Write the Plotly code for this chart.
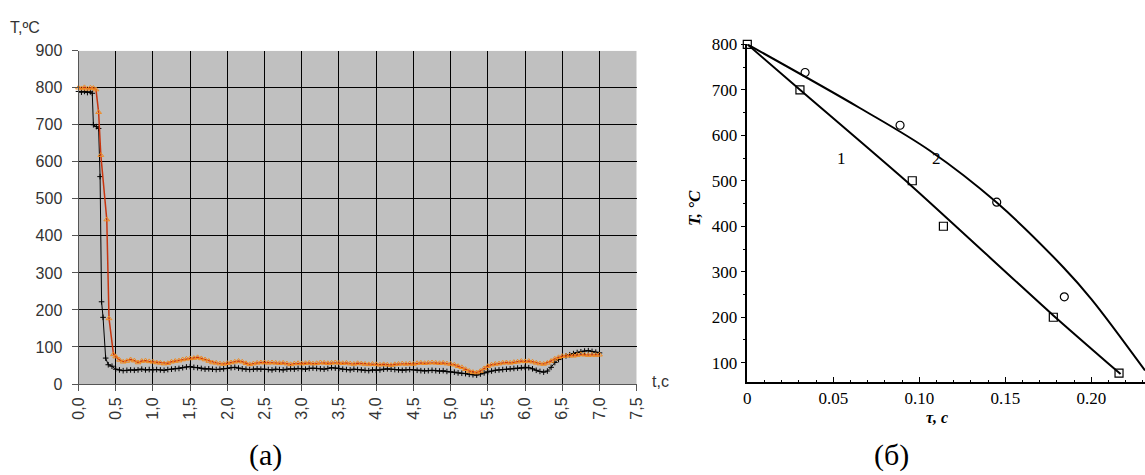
import plotly.graph_objects as go

# ---------------- (a) thermocouple records ----------------
t_red_start = [0.0, 0.04, 0.08, 0.12, 0.16, 0.20, 0.235, 0.27, 0.30, 0.38, 0.41, 0.47, 0.50]
T_red_start = [800, 798, 801, 797, 800, 799, 795, 734, 618, 444, 177, 80, 74]

t_blk_start = [0.0, 0.04, 0.08, 0.12, 0.16, 0.185, 0.20, 0.24, 0.27, 0.29, 0.31, 0.33, 0.365, 0.40, 0.45, 0.50]
T_blk_start = [790, 788, 790, 787, 789, 785, 700, 695, 690, 560, 222, 180, 70, 52, 48, 40]

t_plateau = [round(0.55 + 0.05 * i, 2) for i in range(130)]

T_red_plateau = [
    65, 60, 62, 66, 63, 58, 62, 63, 61, 60,
    58, 57, 55, 56, 60, 62, 63, 66, 68, 69,
    70, 72, 69, 66, 62, 58, 57, 55, 54, 56,
    58, 60, 62, 60, 56, 53, 55, 57, 58, 58,
    57, 58, 57, 56, 57, 55, 53, 55, 56, 55,
    56, 57, 55, 56, 58, 57, 56, 57, 58, 57,
    56, 57, 55, 54, 56, 55, 54, 53, 54, 53,
    52, 53, 52, 51, 53, 54, 55, 54, 55, 54,
    56, 57, 56, 57, 58, 57, 56, 57, 55, 54,
    52, 48, 45, 40, 35, 32, 31, 35, 42, 48,
    52, 54, 55, 57, 58, 57, 59, 60, 62, 61,
    62, 60, 57, 55, 54, 57, 62, 68, 72, 75,
    76, 77, 76, 78, 80, 79, 78, 79, 78, 79,
]

T_blk_plateau = [
    38, 36, 37, 38, 37, 38, 40, 38, 39, 38,
    39, 38, 37, 39, 40, 41, 42, 44, 46, 47,
    45, 44, 42, 40, 41, 40, 39, 40, 41, 42,
    44, 45, 43, 41, 40, 39, 40, 41, 40, 40,
    39, 38, 40, 39, 38, 40, 41, 40, 42, 41,
    40, 42, 43, 42, 41, 40, 42, 44, 43, 42,
    40, 39, 38, 40, 39, 38, 37, 36, 38, 37,
    38, 40, 41, 40, 39, 38, 37, 38, 39, 38,
    37, 36, 35, 36, 37, 36, 35, 36, 34, 33,
    32, 30, 29, 28, 26, 25, 24, 27, 30, 33,
    35, 37, 38, 39, 40, 41, 42, 43, 44, 45,
    44, 41, 37, 34, 32, 35, 45, 58, 66, 72,
    76, 79, 82, 85, 87, 89, 90, 88, 86, 84,
]

t_red = t_red_start + t_plateau
T_red = T_red_start + T_red_plateau
t_blk = t_blk_start + t_plateau
T_blk = T_blk_start + T_blk_plateau

x_ticks_a = [0.0, 0.5, 1.0, 1.5, 2.0, 2.5, 3.0, 3.5, 4.0, 4.5, 5.0, 5.5, 6.0, 6.5, 7.0, 7.5]
x_labels_a = ["0,0", "0,5", "1,0", "1,5", "2,0", "2,5", "3,0", "3,5", "4,0", "4,5",
              "5,0", "5,5", "6,0", "6,5", "7,0", "7,5"]
y_ticks_a = [0, 100, 200, 300, 400, 500, 600, 700, 800, 900]

# ---------------- (б) cooling curves ----------------
tau_sq = [0.0, 0.0306, 0.0959, 0.114, 0.1779, 0.2161]
T_sq = [800, 700, 500, 400, 200, 77]
tau_ci = [0.0336, 0.0888, 0.145, 0.1843]
T_ci = [738, 622, 453, 245]

tau_c1 = [0.0, 0.0306, 0.0945, 0.1779, 0.217]
T_c1 = [800, 700, 492, 204, 75]
tau_c2 = [0.0, 0.0654, 0.1062, 0.145, 0.1837, 0.20, 0.2312]
T_c2 = [800, 660, 566, 452, 310, 240, 83]

x_ticks_b = [0, 0.05, 0.10, 0.15, 0.20]
x_labels_b = ["0", "0.05", "0.10", "0.15", "0.20"]
y_ticks_b = [100, 200, 300, 400, 500, 600, 700, 800]

W, H = 1145, 475
def px(x):
    return x / W
def py(y):
    return 1 - y / H

fig = go.Figure()

fig.add_trace(go.Scatter(
    x=t_blk, y=T_blk, mode="lines+markers", xaxis="x", yaxis="y",
    line=dict(color="black", width=1),
    marker=dict(symbol="cross-thin-open", size=4, color="black", line=dict(width=1, color="black")),
    showlegend=False, cliponaxis=False))
fig.add_trace(go.Scatter(
    x=t_red, y=T_red, mode="lines+markers", xaxis="x", yaxis="y",
    line=dict(color="#c8340e", width=1.5),
    marker=dict(symbol="triangle-up-open", size=5, color="#f08a20", line=dict(width=1, color="#f08a20")),
    showlegend=False, cliponaxis=False))

fig.add_trace(go.Scatter(
    x=tau_c1, y=T_c1, mode="lines", xaxis="x2", yaxis="y2",
    line=dict(color="black", width=2, shape="spline", smoothing=0.6), showlegend=False))
fig.add_trace(go.Scatter(
    x=tau_c2, y=T_c2, mode="lines", xaxis="x2", yaxis="y2",
    line=dict(color="black", width=2, shape="spline", smoothing=1.0), showlegend=False))
fig.add_trace(go.Scatter(
    x=tau_sq, y=T_sq, mode="markers", xaxis="x2", yaxis="y2",
    marker=dict(symbol="square-open", size=8, color="black", line=dict(width=1.2)),
    showlegend=False, cliponaxis=False))
fig.add_trace(go.Scatter(
    x=tau_ci, y=T_ci, mode="markers", xaxis="x2", yaxis="y2",
    marker=dict(symbol="circle-open", size=8, color="black", line=dict(width=1.2)),
    showlegend=False, cliponaxis=False))

arial = dict(family="Liberation Sans, Arial", size=16, color="#333333")
serif = dict(family="Liberation Serif, Times New Roman", size=17, color="black")

fig.update_layout(
    template="none",
    width=W, height=H,
    margin=dict(l=0, r=0, t=0, b=0, autoexpand=False),
    paper_bgcolor="white", plot_bgcolor="white",
    xaxis=dict(domain=[px(78.5), px(636.7)], anchor="y", range=[0, 7.5], automargin=False,
               tickvals=x_ticks_a, ticktext=x_labels_a, tickangle=-90,
               tickfont=arial, ticks="outside", ticklen=6, tickcolor="#555555",
               showline=True, linecolor="#555555", linewidth=1,
               showgrid=True, gridcolor="black", gridwidth=1, zeroline=False),
    yaxis=dict(domain=[py(384), py(50.7)], anchor="x", range=[0, 900], automargin=False,
               tickvals=y_ticks_a, tickfont=arial, ticks="outside", ticklen=6,
               ticklabelstandoff=6,
               tickcolor="#555555", showline=True, linecolor="#555555", linewidth=1,
               showgrid=True, gridcolor="black", gridwidth=1, zeroline=False),
    xaxis2=dict(domain=[px(747.3), 1.0], anchor="y2", range=[0, 0.2312], automargin=False,
                tickvals=x_ticks_b, ticktext=x_labels_b, tickfont=serif,
                ticks="inside", ticklen=6, tickcolor="black",
                minor=dict(dtick=0.01, ticks="inside", ticklen=3, tickcolor="black"),
                showline=True, linecolor="black", linewidth=1.5,
                showgrid=False, zeroline=False),
    yaxis2=dict(domain=[py(382.3), py(44.3)], anchor="x2", range=[57, 800], automargin=False,
                tickvals=y_ticks_b, tickfont=serif,
                ticks="outside", ticklen=5, tickcolor="black",
                minor=dict(dtick=50, ticks="outside", ticklen=3, tickcolor="black"),
                showline=True, linecolor="black", linewidth=1.5,
                showgrid=False, zeroline=False),
    shapes=[dict(type="rect", xref="x", yref="y", x0=0, x1=7.5, y0=0, y1=900,
                 fillcolor="#c0c0c0", line=dict(width=0), layer="below")],
    annotations=[
        dict(text="T,ºC", x=px(8), y=py(27), xref="paper", yref="paper",
             xanchor="left", yanchor="middle", showarrow=False, font=arial),
        dict(text="t,c", x=px(650), y=py(381), xref="paper", yref="paper",
             xanchor="left", yanchor="middle", showarrow=False, font=arial),
        dict(text="(a)", x=px(265), y=py(455), xref="paper", yref="paper",
             xanchor="center", yanchor="middle", showarrow=False,
             font=dict(family="Liberation Serif, Times New Roman", size=30, color="black")),
        dict(text="(б)", x=px(891), y=py(455), xref="paper", yref="paper",
             xanchor="center", yanchor="middle", showarrow=False,
             font=dict(family="Liberation Serif, Times New Roman", size=30, color="black")),
        dict(text="1", x=px(848), y=py(147), xref="paper", yref="paper",
             showarrow=False, font=serif),
        dict(text="2", x=px(943), y=py(147), xref="paper", yref="paper",
             showarrow=False, font=serif),
        dict(text="<b><i>T, °C</i></b>", x=px(694), y=py(208), xref="paper", yref="paper",
             textangle=-90, showarrow=False, font=serif),
        dict(text="<b><i>τ, c</i></b>", x=px(950), y=py(428), xref="paper", yref="paper",
             showarrow=False, font=dict(family="Liberation Serif, Times New Roman", size=16, color="black")),
    ],
)

fig.write_html("out.html")
